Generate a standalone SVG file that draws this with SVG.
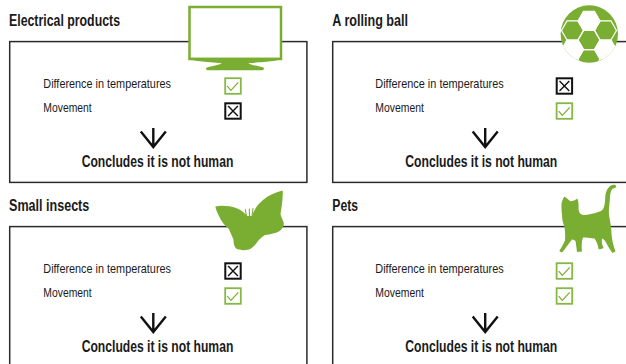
<svg xmlns="http://www.w3.org/2000/svg" xmlns:xlink="http://www.w3.org/1999/xlink" width="626" height="364" viewBox="0 0 626 364">
<style>
  .title{font-family:"Liberation Sans",Arial,sans-serif;font-weight:bold;font-size:16px;fill:#1a1a1a}
  .item{font-family:"Liberation Sans",Arial,sans-serif;font-size:13.5px;fill:#1a1a1a}
  .concl{font-family:"Liberation Sans",Arial,sans-serif;font-weight:bold;font-size:16.5px;fill:#1a1a1a}
  .frame{fill:none;stroke:#2b2b2b;stroke-width:1.5}
  .green{fill:#79ae32}
  .arrow{fill:none;stroke:#111;stroke-width:2.4;stroke-linecap:butt}
</style>
<defs>
  <g id="chk">
    <rect x="0.9" y="0.9" width="15.6" height="15.6" fill="#fff" stroke="#86b846" stroke-width="1.8"/>
    <polyline points="3,8.8 6.6,13 14,5" fill="none" stroke="#79ae32" stroke-width="1.2"/>
  </g>
  <g id="xbx">
    <rect x="1" y="1" width="15.4" height="15.4" fill="#fff" stroke="#111" stroke-width="2"/>
    <path d="M3.8,3.8 L13.6,13.6 M13.6,3.8 L3.8,13.6" fill="none" stroke="#111" stroke-width="1.4"/>
  </g>
  <path id="darrow" d="M0,-25.5 V-6.5 M-12.5,-22 L0,-6.5 L12.5,-22"/>
  <clipPath id="ballclip"><circle cx="589.3" cy="34" r="28.7"/></clipPath>
</defs>

<g id="panel-electrical">
  <text class="title" x="9" y="25.5" textLength="111" lengthAdjust="spacingAndGlyphs">Electrical products</text>
  <rect class="frame" x="9.7" y="41.6" width="297.2" height="140.8"/>
  <text class="item" x="43.3" y="87.5" textLength="127.7" lengthAdjust="spacingAndGlyphs">Difference in temperatures</text>
  <text class="item" x="43.3" y="112.3" textLength="48.4" lengthAdjust="spacingAndGlyphs">Movement</text>
  <use xlink:href="#chk" x="224.3" y="77.3"/>
  <use xlink:href="#xbx" x="224.3" y="102.3"/>
  <text class="concl" x="81.7" y="167.3" textLength="151.6" lengthAdjust="spacingAndGlyphs">Concludes it is not human</text>
  <g id="tv">
    <rect x="189.5" y="7" width="91.5" height="52" fill="#fff" stroke="#79ae32" stroke-width="2.5"/>
    <path class="green" d="M188.3,57.8 L282.2,57.8 C282.2,61 262,62.2 248.3,63.2 C250,65.2 261,66 263.6,67.8 Q265,70 262,70.2 L208,70.2 Q205,70 206.4,67.8 C209,66 220,65.2 221.7,63.2 C208,62.2 188.3,61 188.3,57.8 Z"/>
  </g>
</g>

<g id="panel-ball">
  <text class="title" x="332.3" y="25.5" textLength="75.7" lengthAdjust="spacingAndGlyphs">A rolling ball</text>
  <rect class="frame" x="332.7" y="41.6" width="310" height="140.8"/>
  <text class="item" x="375.3" y="87.5" textLength="128.4" lengthAdjust="spacingAndGlyphs">Difference in temperatures</text>
  <text class="item" x="375.3" y="112.3" textLength="48.7" lengthAdjust="spacingAndGlyphs">Movement</text>
  <use xlink:href="#xbx" x="555.7" y="77.3"/>
  <use xlink:href="#chk" x="555.7" y="102.3"/>
  <text class="concl" x="405.3" y="167.3" textLength="152" lengthAdjust="spacingAndGlyphs">Concludes it is not human</text>
  <g id="ball">
    <circle class="green" cx="589.3" cy="34" r="28.7"/>
    <g clip-path="url(#ballclip)" fill="#fff" stroke="#fff" stroke-width="1.2">
      <polygon points="600,20.95 594.5,30.47 583.5,30.47 578,20.95 583.5,11.42 594.5,11.42"/>
      <polygon points="583.5,49.53 578,59.05 567,59.05 561.5,49.53 567,40 578,40"/>
      <polygon points="616.5,49.53 611,59.05 600,59.05 594.5,49.53 600,40 611,40"/>
      <g fill="none">
        <polygon points="600,40 594.5,49.53 583.5,49.53 578,40 583.5,30.47 594.5,30.47"/>
        <polygon points="583.5,30.47 578,40 567,40 561.5,30.47 567,20.95 578,20.95"/>
        <polygon points="616.5,30.47 611,40 600,40 594.5,30.47 600,20.95 611,20.95"/>
        <polygon points="600,59.05 594.5,68.58 583.5,68.58 578,59.05 583.5,49.53 594.5,49.53"/>
      </g>
    </g>
  </g>
</g>

<g id="panel-insects">
  <text class="title" x="9" y="210.5" textLength="80.3" lengthAdjust="spacingAndGlyphs">Small insects</text>
  <rect class="frame" x="9.7" y="226.6" width="297.2" height="140.8"/>
  <text class="item" x="43.3" y="272.5" textLength="127.7" lengthAdjust="spacingAndGlyphs">Difference in temperatures</text>
  <text class="item" x="43.3" y="297.3" textLength="48.4" lengthAdjust="spacingAndGlyphs">Movement</text>
  <use xlink:href="#xbx" x="224.3" y="262.3"/>
  <use xlink:href="#chk" x="224.3" y="287.3"/>
  <text class="concl" x="81.7" y="352.3" textLength="151.6" lengthAdjust="spacingAndGlyphs">Concludes it is not human</text>
  <g id="butterfly">
    <path class="green" d="M215.3,206.5 C222,205 230,206 236,208 C240,209.5 244,212 247,216 L252,216 C254,210 258,204 263,200 C269,195 276,192 282.7,190.5 C283,196 282,206 280.5,214 C281,217 283,220 283.8,223 C284,227 281,231 276,232.7 C272,234 268,234.5 265,235 C262,237 259.5,239 258,241 C256,244 253,248 249,249.5 C245,250.5 240,250.5 237,249 C234,247 233.5,243 233.5,239.5 C232,236 230,232 229,229 C225,226 221,221 219,216 C217.5,213 216,210 215.3,206.5 Z"/>
    <path d="M246.5,216 L245.3,209.5 M249.5,216 L249.3,209 M252,216 L253,208.5" fill="none" stroke="#79ae32" stroke-width="1.1" stroke-linecap="round"/>
  </g>
</g>

<g id="panel-pets">
  <text class="title" x="332.3" y="210.5" textLength="25.7" lengthAdjust="spacingAndGlyphs">Pets</text>
  <rect class="frame" x="332.7" y="226.6" width="310" height="140.8"/>
  <text class="item" x="375.3" y="272.5" textLength="128.4" lengthAdjust="spacingAndGlyphs">Difference in temperatures</text>
  <text class="item" x="375.3" y="297.3" textLength="48.7" lengthAdjust="spacingAndGlyphs">Movement</text>
  <use xlink:href="#chk" x="555.7" y="262.3"/>
  <use xlink:href="#chk" x="555.7" y="287.3"/>
  <text class="concl" x="405.3" y="352.3" textLength="152" lengthAdjust="spacingAndGlyphs">Concludes it is not human</text>
  <g id="cat">
    <path class="green" d="M564.7,196.5 L570.3,201.3 C573,201 575,200.5 577.3,198.5 C578.5,201 578.8,205 578.5,209 C579,212 580,214.5 583,215 C588,215 596,213 601,211 C604,209.5 605,205 605.3,196 C605.8,191 608,187 611.5,185.2 C613.5,184.3 616,184.5 616.3,186.5 C616,188 613.5,188 612.3,189 C610.5,191 610,195 609.8,200 C609.5,205 608.5,210 609,215 C610,221 611.5,228 611.5,234 C612,240 613.5,246 615.5,251.5 L612.5,253 C610,250 608,246 606,242.5 C605,240.5 603.5,239 602,238.5 C601.5,242 602,245 603.5,247.5 C602.5,249 600.5,249.5 598.5,249 C598,245 596.5,241 594.5,238.5 C590,238 586,237.5 583,237.5 L582,241 C581.5,244.5 581.5,248 582,251.5 L577,252 C576.5,248 576,244 575.5,241 C574,240 573,239.5 572,239.5 C569,243.5 565.5,248 562.5,252 C561,252.5 559.5,252 559.5,250.5 C561.5,247.5 563.5,244 565,240.5 C565.5,236 565,231 564.5,227 C563,223 562,219 562,215 C561.5,211 561.3,207 561.5,203.5 C562,201 563,198.5 564.7,196.5 Z"/>
  </g>
</g>

<g id="connectors" class="arrow">
  <use xlink:href="#darrow" x="153.3" y="153.5"/>
  <use xlink:href="#darrow" x="485.2" y="153.5"/>
  <use xlink:href="#darrow" x="153.3" y="338.5"/>
  <use xlink:href="#darrow" x="485.2" y="338.5"/>
</g>
</svg>
